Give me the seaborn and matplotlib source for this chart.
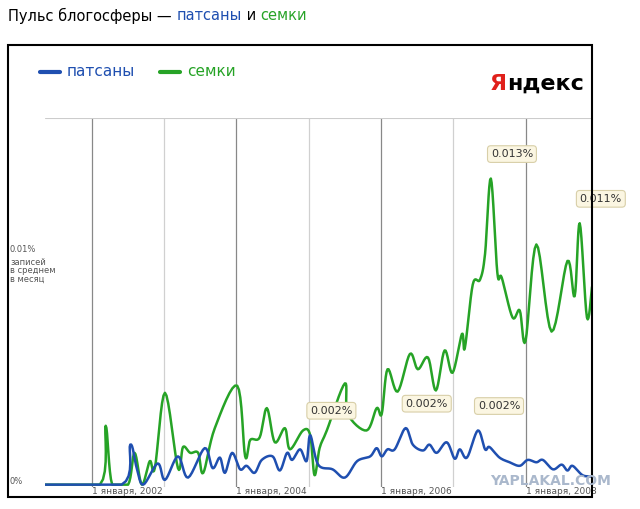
import matplotlib
matplotlib.use("Agg")
import matplotlib.pyplot as plt
import seaborn as sns
import numpy as np
import pandas as pd
from matplotlib.patches import Rectangle

# data: decimal year, value in thousandths of a percent
green_years = [2001.35, 2002.11, 2002.19, 2002.28, 2002.50, 2002.59, 2002.69, 2002.80, 2002.87,
               2003.01, 2003.19, 2003.26, 2003.36, 2003.47, 2003.54, 2003.70, 2004.01, 2004.12,
               2004.19, 2004.32, 2004.42, 2004.53, 2004.67, 2004.74, 2004.92, 2005.02, 2005.08,
               2005.15, 2005.25, 2005.50, 2005.54, 2005.80, 2005.94, 2006.01, 2006.09, 2006.23,
               2006.40, 2006.51, 2006.65, 2006.76, 2006.88, 2006.99, 2007.12, 2007.16, 2007.27,
               2007.37, 2007.44, 2007.52, 2007.61, 2007.67, 2007.82, 2007.92, 2008.00, 2008.15,
               2008.36, 2008.58, 2008.68, 2008.75, 2008.85, 2008.92]
green_vals = [0, 0, 2.5, 0, 0, 1.35, 0, 1.0, 0.7,
              3.9, 0.7, 1.6, 1.35, 1.35, 0.5, 2.4, 4.2, 1.2,
              1.9, 2.0, 3.25, 1.8, 2.4, 1.5, 2.3, 2.1, 0.4,
              1.55, 2.3, 4.3, 3.0, 2.3, 3.25, 3.0, 4.9, 3.95,
              5.55, 4.9, 5.4, 4.0, 5.7, 4.75, 6.4, 5.8, 8.5,
              8.7, 9.8, 13.0, 9.0, 8.8, 7.1, 7.4, 6.1, 10.2,
              6.5, 9.5, 8.0, 11.1, 7.1, 8.4]

blue_years = [2001.35, 2002.41, 2002.53, 2002.62, 2002.71, 2002.91, 2003.01, 2003.19, 2003.33,
              2003.56, 2003.67, 2003.77, 2003.84, 2003.94, 2004.05, 2004.14, 2004.25, 2004.35,
              2004.50, 2004.60, 2004.70, 2004.77, 2004.88, 2004.97, 2005.02, 2005.13, 2005.33,
              2005.50, 2005.67, 2005.85, 2005.94, 2006.01, 2006.09, 2006.19, 2006.34, 2006.44,
              2006.58, 2006.67, 2006.77, 2006.91, 2007.02, 2007.09, 2007.19, 2007.34, 2007.44,
              2007.50, 2007.64, 2007.78, 2007.92, 2008.03, 2008.15, 2008.24, 2008.38, 2008.50,
              2008.58, 2008.65, 2008.79, 2008.92]
blue_vals = [0, 0, 1.7, 0.7, 0, 0.9, 0.2, 1.2, 0.3,
             1.55, 0.7, 1.15, 0.5, 1.35, 0.65, 0.8, 0.5, 1.05,
             1.2, 0.6, 1.35, 1.05, 1.5, 1.0, 2.1, 0.85, 0.65,
             0.3, 1.0, 1.2, 1.55, 1.2, 1.5, 1.5, 2.4, 1.7,
             1.45, 1.7, 1.35, 1.8, 1.1, 1.5, 1.15, 2.3, 1.5,
             1.6, 1.15, 0.95, 0.8, 1.05, 0.95, 1.05, 0.65, 0.85,
             0.6, 0.8, 0.4, 0.35]

tick_years = [2002, 2004, 2006, 2008]
tick_labels = ["1 января, 2002", "1 января, 2004", "1 января, 2006", "1 января, 2008"]

# callouts: (year, value, label)
callouts = [(2005.02, 2.1, "0.002%"), (2006.34, 2.4, "0.002%"), (2007.34, 2.3, "0.002%"),
            (2007.52, 13.0, "0.013%"), (2008.75, 11.1, "0.011%")]

BLUE = "#1f4fb0"
GREEN = "#26a326"


def smooth(xs, ys, n=8):
    # catmull-rom through the read points, just for the rounded look
    xs, ys = np.asarray(xs, float), np.asarray(ys, float)
    px = np.concatenate([[xs[0]], xs, [xs[-1]]])
    py = np.concatenate([[ys[0]], ys, [ys[-1]]])
    ox, oy = [], []
    t = np.linspace(0, 1, n, endpoint=False)
    for i in range(1, len(px) - 2):
        for arr, out in ((px, ox), (py, oy)):
            p0, p1, p2, p3 = arr[i-1:i+3]
            out.extend(0.5 * (2*p1 + (-p0 + p2)*t + (2*p0 - 5*p1 + 4*p2 - p3)*t**2
                              + (-p0 + 3*p1 - 3*p2 + p3)*t**3))
    ox.append(xs[-1]); oy.append(ys[-1])
    return pd.DataFrame({"year": ox, "val": np.clip(oy, 0, None)})


sns.set_style("white")
plt.rcParams["font.family"] = ["DejaVu Sans"]

fig = plt.figure(figsize=(6.4, 5.09), dpi=100)
ax = fig.add_axes([45/640, 1-487/509, (592-45)/640, (487-118)/509])

sns.lineplot(data=smooth(green_years, green_vals), x="year", y="val", color=GREEN, lw=1.8,
             ax=ax, sort=False, estimator=None)
sns.lineplot(data=smooth(blue_years, blue_vals), x="year", y="val", color=BLUE, lw=1.8,
             ax=ax, sort=False, estimator=None)

ax.set_xlim(2001.35, 2008.92)
ax.set_ylim(-0.1, 15.57)
for y in range(2002, 2009):
    ax.axvline(y, color="#888888" if y % 2 == 0 else "#d0d0d0", lw=0.9, zorder=0)
ax.axhline(15.57, color="#cccccc", lw=0.8)
for s in ax.spines.values():
    s.set_visible(False)
ax.set_xticks([])
ax.set_yticks([])
ax.set_xlabel("")
ax.set_ylabel("")
ax.patch.set_alpha(0)

for yr, lab in zip(tick_years, tick_labels):
    ax.annotate(lab, (yr, 0), xytext=(0, -5), textcoords="offset points",
                fontsize=6.5, color="#555555", ha="left", va="center", annotation_clip=False)

for yr, v, lab in callouts:
    ax.annotate(lab, (yr, v), xytext=(0, 14), textcoords="offset points",
                fontsize=8, color="#333333", ha="left", va="bottom",
                bbox=dict(boxstyle="round,pad=0.3", fc="#fbf6e2", ec="#d8cfa8", lw=0.8))

# outer frame
fig.patches.append(Rectangle((8/640, 1-497/509), (592-8)/640, (497-45)/509,
                             transform=fig.transFigure, fill=False, ec="black", lw=1.5))

# y labels
fig.text(10/640, 1-250/509, "0.01%", fontsize=6, color="#555555", va="center")
fig.text(10/640, 1-258/509, "записей\nв среднем\nв месяц", fontsize=6, color="#555555",
         va="top", linespacing=0.9)
fig.text(10/640, 1-482/509, "0%", fontsize=6, color="#555555", va="center")

# title with coloured words
fig.canvas.draw()
r = fig.canvas.get_renderer()
x = 8/640
for txt, col in [("Пульс блогосферы — ", "black"), ("патсаны", BLUE), (" и ", "black"), ("семки", GREEN)]:
    t = fig.text(x, 1-16/509, txt, fontsize=10.5, color=col, va="center")
    x += t.get_window_extent(r).width / 640

# legend
fig.add_artist(plt.Line2D([40/640, 60/640], [1-72/509]*2, color=BLUE, lw=3))
fig.text(67/640, 1-72/509, "патсаны", fontsize=11, color=BLUE, va="center")
fig.add_artist(plt.Line2D([160/640, 180/640], [1-72/509]*2, color=GREEN, lw=3))
fig.text(187/640, 1-72/509, "семки", fontsize=11, color=GREEN, va="center")

# logo
t = fig.text(490/640, 1-84/509, "Я", fontsize=16, color="#e0201b", va="center",
             fontfamily="Liberation Sans Narrow", weight="bold")
fig.text(490/640 + t.get_window_extent(r).width / 640, 1-84/509, "ндекс", fontsize=16,
         color="black", va="center", fontfamily="Liberation Sans Narrow", weight="bold")

# watermark
fig.text(490/640, 1-481/509, "YAPLAKAL.COM", fontsize=10, color="#aab8cc", weight="bold", va="center")

fig.savefig("out.png", dpi=100)
